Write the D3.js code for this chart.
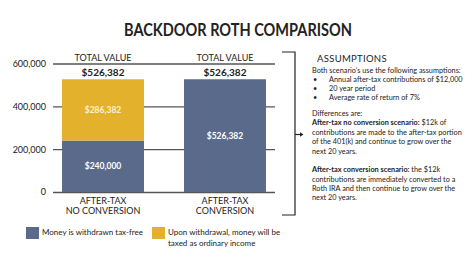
<!DOCTYPE html>
<meta charset="utf-8">
<html>
<head>
    <title>Backdoor Roth Comparison</title>
    <style>
        body { margin: 0; background: #fff; }
        svg text { font-family: "Lato", "Open Sans", sans-serif; fill: #222; }
    </style>
</head>
<body>
    <div id="container"></div>
    <script src="https://d3js.org/d3.v7.min.js"></script>
    <script>
        // chart data
        const categories = ["AFTER-TAX|NO CONVERSION", "AFTER-TAX|CONVERSION"];
        const taxFree = [240000, 526382];
        const taxable = [286382, 0];
        const totals = [526382, 526382];
        const yTicks = [0, 200000, 400000, 600000];
        const legendLabels = ["Money is withdrawn tax-free", "Upon withdrawal, money will be|taxed as ordinary income"];

        const blue = "#5a6a8b", gold = "#e3b12b";

        const width = 474, height = 271;
        const svg = d3.select("#container").append("svg")
            .attr("width", width)
            .attr("height", height);

        // title
        svg.append("text")
            .attr("x", 238).attr("y", 35.5)
            .attr("text-anchor", "middle")
            .attr("font-size", 16.5)
            .attr("font-weight", 700)
            .attr("textLength", 228)
            .attr("lengthAdjust", "spacingAndGlyphs")
            .text("BACKDOOR ROTH COMPARISON");

        const x = d3.scaleBand()
            .domain(categories)
            .range([53, 275])
            .paddingInner(0.328)
            .paddingOuter(0.074);

        const y = d3.scaleLinear()
            .domain([0, 600000])
            .range([192, 63.5]);

        // gridlines + axis labels
        const yAxis = d3.axisLeft(y)
            .tickValues(yTicks)
            .tickFormat(d3.format(","))
            .tickSize(-222)
            .tickPadding(7);

        const axisG = svg.append("g")
            .attr("transform", "translate(53,0)")
            .call(yAxis);
        axisG.select(".domain").remove();
        axisG.selectAll(".tick line").attr("stroke", "#555").attr("stroke-width", 1.3);
        axisG.selectAll(".tick text")
            .attr("font-size", 9)
            .attr("fill", "#222")
            .style("font-family", "Lato, sans-serif");

        // stacked bars
        const bars = svg.append("g");
        bars.selectAll("rect.free")
            .data(categories)
            .join("rect")
            .attr("class", "free")
            .attr("x", d => x(d))
            .attr("width", x.bandwidth())
            .attr("y", (d, i) => y(taxFree[i]))
            .attr("height", (d, i) => y(0) - y(taxFree[i]))
            .attr("fill", blue);

        bars.selectAll("rect.tax")
            .data(categories)
            .join("rect")
            .attr("class", "tax")
            .attr("x", d => x(d))
            .attr("width", x.bandwidth())
            .attr("y", (d, i) => y(taxFree[i] + taxable[i]))
            .attr("height", (d, i) => y(taxFree[i]) - y(taxFree[i] + taxable[i]))
            .attr("fill", gold);

        const money = d3.format("$,");

        // segment labels
        categories.forEach((c, i) => {
            const cx = x(c) + x.bandwidth() / 2;
            svg.append("text")
                .attr("x", cx)
                .attr("y", (y(0) + y(taxFree[i])) / 2 + 3)
                .attr("text-anchor", "middle")
                .attr("font-size", 8.5)
                .attr("font-weight", 700)
                .style("fill", "#fff")
                .text(money(taxFree[i]));
            if (taxable[i] > 0) {
                svg.append("text")
                    .attr("x", cx)
                    .attr("y", (y(taxFree[i]) + y(taxFree[i] + taxable[i])) / 2 + 3)
                    .attr("text-anchor", "middle")
                    .attr("font-size", 8.5)
                    .attr("font-weight", 700)
                    .style("fill", "#fbf1d4")
                    .text(money(taxable[i]));
            }

            // total header
            svg.append("text")
                .attr("x", cx).attr("y", 61)
                .attr("text-anchor", "middle")
                .attr("font-size", 9)
                .text("TOTAL VALUE");
            svg.append("text")
                .attr("x", cx).attr("y", 75.5)
                .attr("text-anchor", "middle")
                .attr("font-size", 10)
                .attr("font-weight", 700)
                .text(money(totals[i]));

            // category labels
            c.split("|").forEach((line, j) => {
                svg.append("text")
                    .attr("x", cx).attr("y", 204 + j * 9.5)
                    .attr("text-anchor", "middle")
                    .attr("font-size", 9)
                    .text(line);
            });
        });

        // legend
        const legendX = [26, 152];
        legendLabels.forEach((lab, i) => {
            svg.append("rect")
                .attr("x", legendX[i]).attr("y", 227)
                .attr("width", 13).attr("height", 12)
                .attr("fill", i === 0 ? blue : gold);
            lab.split("|").forEach((line, j) => {
                svg.append("text")
                    .attr("x", legendX[i] + 16).attr("y", 235 + j * 10.5)
                    .attr("font-size", 8)
                    .text(line);
            });
        });

        // bracket
        svg.append("path")
            .attr("d", "M282,52H295V215H282")
            .attr("fill", "none")
            .attr("stroke", "#222")
            .attr("stroke-width", 1.2);
        svg.append("path")
            .attr("d", "M295,134.5H301")
            .attr("stroke", "#222")
            .attr("stroke-width", 1.2);
        svg.append("path")
            .attr("d", "M300,132.3L303.5,134.5L300,136.7Z")
            .attr("fill", "#222");

        // assumptions text
        svg.append("text")
            .attr("x", 317).attr("y", 62)
            .attr("font-size", 9.5)
            .attr("letter-spacing", 0.3)
            .text("ASSUMPTIONS");

        const noteLines = [
            [312, 72.7, "", "Both scenario’s use the following assumptions:"],
            [329, 81.7, "", "Annual after-tax contributions of $12,000"],
            [329, 90.8, "", "20 year period"],
            [329, 100, "", "Average rate of return of 7%"],
            [312, 116, "", "Differences are:"],
            [312, 125.3, "After-tax no conversion scenario:", " $12k of"],
            [312, 134.8, "", "contributions are made to the after-tax portion"],
            [312, 144.2, "", "of the 401(k) and continue to grow over the"],
            [312, 153.7, "", "next 20 years."],
            [312, 172.3, "After-tax conversion scenario:", " the $12k"],
            [312, 181.7, "", "contributions are immediately converted to a"],
            [312, 190.9, "", "Roth IRA and then continue to grow over the"],
            [312, 200.2, "", "next 20 years."]
        ];
        noteLines.forEach(([lx, ly, bold, rest]) => {
            const t = svg.append("text")
                .attr("x", lx).attr("y", ly)
                .attr("font-size", 7.3);
            if (bold) t.append("tspan").attr("font-weight", 700).text(bold);
            t.append("tspan").text(rest);
        });
        [81.7, 90.8, 100].forEach(by => {
            svg.append("text")
                .attr("x", 313).attr("y", by)
                .attr("font-size", 7.3)
                .text("•");
        });
    </script>
</body>
</html>
